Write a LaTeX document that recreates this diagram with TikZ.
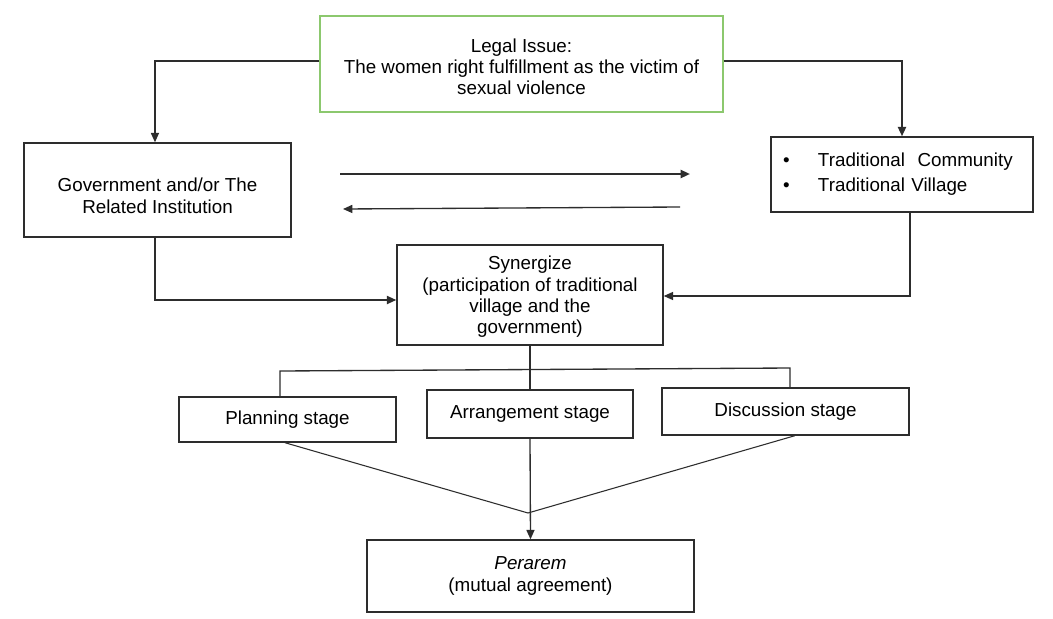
\documentclass[tikz,border=0pt]{standalone}
\usepackage{fontspec}
\setmainfont{Liberation Sans}
\usetikzlibrary{arrows.meta}
\definecolor{boxgreen}{RGB}{140,200,110}
\definecolor{edge}{RGB}{45,45,45}
\begin{document}
\begin{tikzpicture}[x=0.75pt,y=-0.75pt,
  font=\fontsize{14.1}{15.9}\selectfont,
  box/.style={draw=edge,line width=1.05pt,align=center,inner sep=0pt},
  conn/.style={draw=edge,line width=1.0pt},
  arr/.style={conn,-{Triangle[length=7pt,width=6pt]}}]
\useasboundingbox (0,0) rectangle (1053,618);
\fill[white] (0,0) rectangle (1053,618);

\node[box,draw=boxgreen,minimum width=302.25pt,minimum height=72pt] (legal) at (521.5,64)
  {\rule{0pt}{14pt}Legal Issue:\\The women right fulfillment as the victim of\\sexual violence};
\node[box,minimum width=200.25pt,minimum height=70.5pt] (gov) at (157.5,190)
  {\rule{0pt}{19pt}Government and/or The\\Related Institution};
\node[box,align=left,text width=178.5pt,inner xsep=9pt,minimum height=56.25pt] (trad) at (902,174.5)
  {\makebox[26.25pt][l]{\textbullet}Traditional\ \ Community\\[3pt]\makebox[26.25pt][l]{\textbullet}Traditional Village};
\node[box,minimum width=199.5pt,minimum height=75pt] (syn) at (530,295)
  {\rule{0pt}{13pt}Synergize\\(participation of traditional\\village and the\\government)};
\node[box,minimum width=162.75pt,minimum height=33.75pt] (plan) at (287.5,419.5)
  {\raisebox{3pt}{Planning stage}};
\node[box,minimum width=154.5pt,minimum height=36pt] (arr) at (530,414)
  {\raisebox{2pt}{Arrangement stage}};
\node[box,minimum width=185.25pt,minimum height=35.25pt] (disc) at (785.5,411.5)
  {\raisebox{2pt}{Discussion stage}};
\node[box,minimum width=245.25pt,minimum height=54pt] (per) at (530.5,576)
  {\textit{Perarem}\\(mutual agreement)};

% from legal issue
\draw[arr] ([yshift=2.25pt]legal.west) -| ([xshift=-1.9pt]gov.north);
\draw[arr,line width=1.5pt] ([yshift=2.25pt]legal.east) -| (trad.north);

% mutual arrows
\coordinate (r1) at (340,174);
\coordinate (r2) at (690,174);
\coordinate (l1) at (680,207);
\coordinate (l2) at (343,209);
\draw[arr,line width=1.6pt] (r1) -- (r2);
\draw[arr] (l1) -- (l2);

% into synergize
\draw[arr,line width=1.3pt] ([xshift=-1.9pt]gov.south) |- ([yshift=-3.75pt]syn.west);
\draw[arr] ([xshift=6pt]trad.south) |- ([yshift=-0.75pt]syn.east);

% synergize to stages
\draw[conn,line width=1.6pt] (syn.south) -- (arr.north);
\coordinate (b1) at (280,371);
\coordinate (b2) at (790,368);
\draw[conn] (plan.north -| b1) -- (b1) -- (b2) -- (disc.north -| b2);

% stages to perarem
\coordinate (m) at (528,513);
\draw[conn,line width=0.8pt] ([xshift=-1.9pt]plan.south) -- (m);
\draw[conn,line width=0.8pt] ([xshift=7pt]disc.south) -- (m);
\draw[arr] (arr.south) -- (per.north);
\end{tikzpicture}
\end{document}
